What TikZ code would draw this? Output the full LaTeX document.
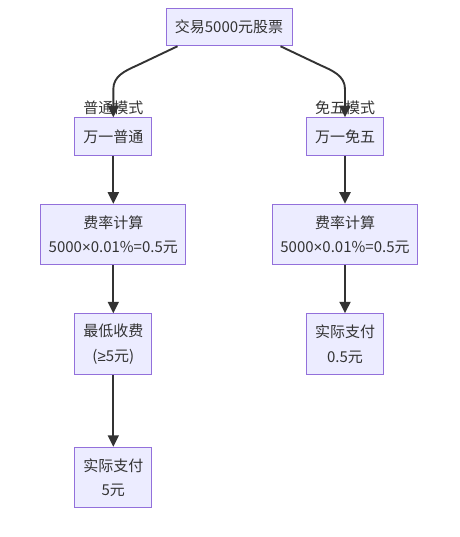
\documentclass[tikz,border=0pt]{standalone}
\usepackage{fontspec}
\setmainfont{Noto Sans CJK SC}
\newfontfamily\latinfont{Liberation Sans}
\usetikzlibrary{arrows.meta,positioning}
\definecolor{boxfill}{HTML}{ECECFF}
\definecolor{boxline}{HTML}{9370DB}
\definecolor{ink}{HTML}{333333}
\newcommand{\mulsign}{{\latinfont ×}}
\newcommand{\geqsign}{{\latinfont ≥}}

\begin{document}
\begin{tikzpicture}[font=\fontsize{15}{24.5}\selectfont, text=ink,
  box/.style={draw=boxline, fill=boxfill, line width=1pt, align=center, inner sep=0pt, minimum height=37.5pt},
  tall/.style={box, minimum height=60.5pt},
  flow/.style={draw=ink, line width=1.9pt, -{Triangle[length=11.5pt,width=11pt]}},
  tag/.style={inner sep=0pt},
]
\useasboundingbox (0pt,0pt) rectangle (459pt,-537pt);

\node[box, minimum width=126pt] (trade) at (229pt,-27pt) {交易5000元股票};

\node[box, minimum width=77pt] (normal) at (113.3pt,-136.5pt) {万一普通};
\node[box, minimum width=77pt] (free) at (345pt,-136.5pt) {万一免五};

\node[tall, minimum width=145pt, below=48pt of normal] (rateN) {费率计算\\5000\mulsign0.01\%=0.5元};
\node[tall, minimum width=145pt, below=48pt of free] (rateF) {费率计算\\5000\mulsign0.01\%=0.5元};

\node[tall, minimum width=77pt, below=48pt of rateN] (minfee) {最低收费\\(\geqsign5元)};
\node[tall, minimum width=77pt, below=72pt of minfee] (payN) {实际支付\\5元};
\node[tall, minimum width=77pt, below=48pt of rateF] (payF) {实际支付\\0.5元};

\node[tag] (tagN) at (113.3pt,-108pt) {普通模式};
\node[tag] (tagF) at (345pt,-108pt) {免五模式};

\draw[flow] ([xshift=12pt]trade.south west) -- ++(-40pt,-19pt) to[out=-156,in=90] ([yshift=28pt]normal.north) -- (normal);
\draw[flow] ([xshift=-12pt]trade.south east) -- ++(40pt,-19pt) to[out=-24,in=90] ([yshift=28pt]free.north) -- (free);

\draw[flow] (normal) -- (rateN);
\draw[flow] (rateN) -- (minfee);
\draw[flow] (minfee) -- (payN);
\draw[flow] (free) -- (rateF);
\draw[flow] (rateF) -- (payF);

\end{tikzpicture}
\end{document}
